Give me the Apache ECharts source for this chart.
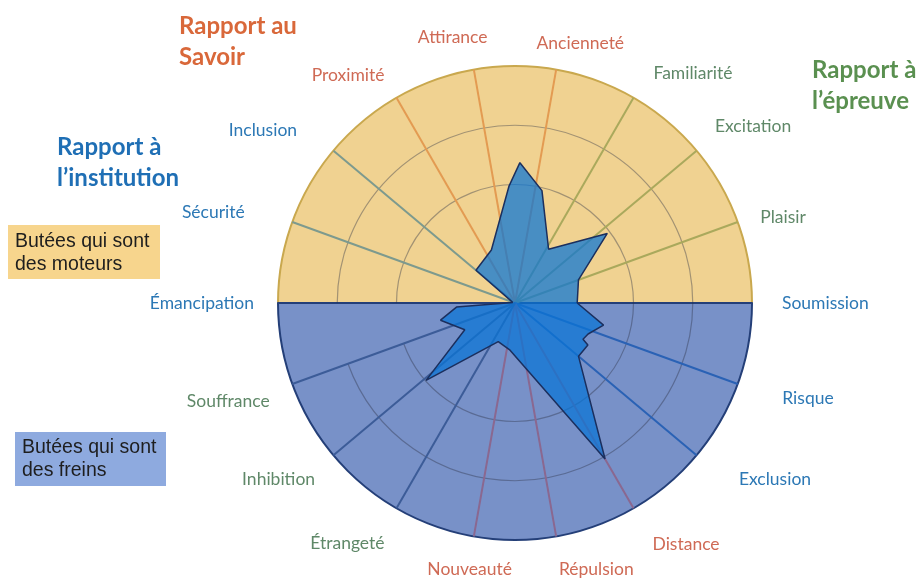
<!DOCTYPE html>
<html>
<head>
<meta charset="utf-8">
<script src="https://cdn.jsdelivr.net/npm/echarts@6/dist/echarts.min.js"></script>
<style>
  html, body { margin: 0; padding: 0; background: #fff; }
  #chart { width: 920px; height: 578px; }
</style>
</head>
<body>
<div id="chart"></div>
<script>
// axes du radar, dans le sens horaire depuis la gauche
var spokeNames = ['Émancipation', 'Sécurité', 'Inclusion', 'Proximité', 'Attirance', 'Ancienneté',
  'Familiarité', 'Excitation', 'Plaisir', 'Soumission', 'Risque', 'Exclusion',
  'Distance', 'Répulsion', 'Nouveauté', 'Étrangeté', 'Inhibition', 'Souffrance'];
var spokeGroups = ['inst', 'inst', 'inst', 'savoir', 'savoir', 'savoir',
  'epreuve', 'epreuve', 'epreuve', 'inst', 'inst', 'inst',
  'savoir', 'savoir', 'savoir', 'epreuve', 'epreuve', 'epreuve'];

// profil (angle en degrés, sens trigo depuis la droite ; valeur sur 4)
var polyAngles = [0, 20, 37, 58, 76.5, 88, 93, 114, 140, 165, 178, 184, 193, 208, 221, 246.5, 264, 300, 320, 330, 332, 337, 346, 360];
var polyValues = [1.05, 1.14, 1.95, 1.07, 1.95, 2.37, 1.97, 0.98, 0.86, 0.04, 0.03, 0.99, 1.29, 0.96, 1.99, 0.71, 0.80, 3.04, 1.40, 1.42, 1.30, 1.34, 1.54, 1.05];

var labelColor = { inst: '#2c78b5', savoir: '#cf6a55', epreuve: '#5f8868' };
var spokeColorTop = { inst: '#7d9a8e', savoir: '#e39b52', epreuve: '#aaa95c' };
var spokeColorBottom = { inst: '#2a62b5', savoir: '#8a6890', epreuve: '#3c5c98' };
// petits décalages des étiquettes pour coller à la figure [haut, droite, bas, gauche]
var labelPad = {
  'Sécurité': [0, 25, -8, 0],
  'Inclusion': [0, 18, -4, 0],
  'Proximité': [0, 0, -7, 0],
  'Attirance': [0, 34, 0, 0],
  'Ancienneté': [0, 0, -6, 40],
  'Familiarité': [0, 0, -5, 8],
  'Plaisir': [0, 0, -13, 0],
  'Soumission': [0, 0, 0, 6],
  'Risque': [-3, 0, 0, 22],
  'Exclusion': [0, 0, 0, 24],
  'Distance': [6, 0, 0, 7],
  'Répulsion': [0, 0, 0, 72],
  'Étrangeté': [5, 0, 0, 0]
};

var cx = 515, cy = 303, R = 237;

var myChart = echarts.init(document.getElementById('chart'));

var catData = [];
var spokeColors = [];
for (var i = 0; i < spokeNames.length; i++) {
  var ts = { color: labelColor[spokeGroups[i]] };
  if (labelPad[spokeNames[i]]) ts.padding = labelPad[spokeNames[i]];
  catData.push({ value: spokeNames[i], textStyle: ts });
  if (i == 0 || i == 9) {
    spokeColors.push('rgba(0,0,0,0)');
  } else if (i < 9) {
    spokeColors.push(spokeColorTop[spokeGroups[i]]);
  } else {
    spokeColors.push(spokeColorBottom[spokeGroups[i]]);
  }
}

var polyData = [];
for (var j = 0; j < polyAngles.length; j++) {
  polyData.push([polyValues[j], polyAngles[j]]);
}

var option = {
  backgroundColor: '#fff',
  animation: false,
  polar: [
    { center: [cx, cy], radius: R },
    { center: [cx, cy], radius: R }
  ],
  angleAxis: [
    {
      polarIndex: 0,
      type: 'category',
      data: catData,
      boundaryGap: false,
      startAngle: 180,
      clockwise: true,
      z: 3,
      axisLine: { show: false },
      axisTick: { show: false },
      axisLabel: { margin: 24, fontFamily: 'Lato', fontSize: 17.5 },
      splitLine: { show: true, lineStyle: { color: spokeColors, width: 2 } }
    },
    {
      polarIndex: 1,
      type: 'value',
      min: 0,
      max: 360,
      startAngle: 0,
      clockwise: false,
      show: false
    }
  ],
  radiusAxis: [
    {
      polarIndex: 0,
      type: 'value',
      min: 0,
      max: 4,
      interval: 1,
      z: 3,
      axisLine: { show: false },
      axisTick: { show: false },
      axisLabel: { show: false },
      splitLine: {
        show: true,
        lineStyle: { color: ['rgba(0,0,0,0)', 'rgba(0,0,0,0)', 'rgba(45,50,70,0.4)', 'rgba(45,50,70,0.4)', 'rgba(0,0,0,0)'], width: 1.2 }
      }
    },
    { polarIndex: 1, type: 'value', min: 0, max: 4, show: false }
  ],
  graphic: [
    { type: 'rect', shape: { x: 8, y: 225, width: 152, height: 54 }, style: { fill: '#f7d58d' } },
    { type: 'text', left: 15, top: 230, style: { text: 'Butées qui sont\ndes moteurs', fill: '#1e1e1e', font: '19.5px "Liberation Sans"', lineHeight: 23 } },
    { type: 'rect', shape: { x: 15, y: 432, width: 151, height: 54 }, style: { fill: '#8eaadf' } },
    { type: 'text', left: 22, top: 436, style: { text: 'Butées qui sont\ndes freins', fill: '#1e1e1e', font: '19.5px "Liberation Sans"', lineHeight: 23 } },
    { type: 'text', left: 179, top: 11, style: { text: 'Rapport au\nSavoir', fill: '#d9683a', font: 'bold 24px Lato', lineHeight: 31 } },
    { type: 'text', left: 812, top: 55, style: { text: 'Rapport à\nl’épreuve', fill: '#5a9050', font: 'bold 24px Lato', lineHeight: 31 } },
    { type: 'text', left: 57, top: 132, style: { text: 'Rapport à\nl’institution', fill: '#1f6fb5', font: 'bold 24px Lato', lineHeight: 31 } }
  ],
  series: [
    {
      type: 'pie',
      center: [cx, cy],
      radius: R,
      startAngle: 180,
      clockwise: true,
      silent: true,
      z: 1,
      label: { show: false },
      labelLine: { show: false },
      data: [
        { value: 1, itemStyle: { color: '#f0d291', borderColor: '#c9a84e', borderWidth: 2 } },
        { value: 1, itemStyle: { color: '#7891c8', borderColor: '#243f78', borderWidth: 2 } }
      ]
    },
    {
      type: 'line',
      coordinateSystem: 'polar',
      polarIndex: 1,
      z: 5,
      symbol: 'none',
      smooth: false,
      data: polyData,
      lineStyle: { color: '#1b2f5e', width: 1.5 },
      areaStyle: { color: 'rgba(10,117,214,0.73)', opacity: 1 }
    }
  ]
};
myChart.setOption(option);
</script>
</body>
</html>
